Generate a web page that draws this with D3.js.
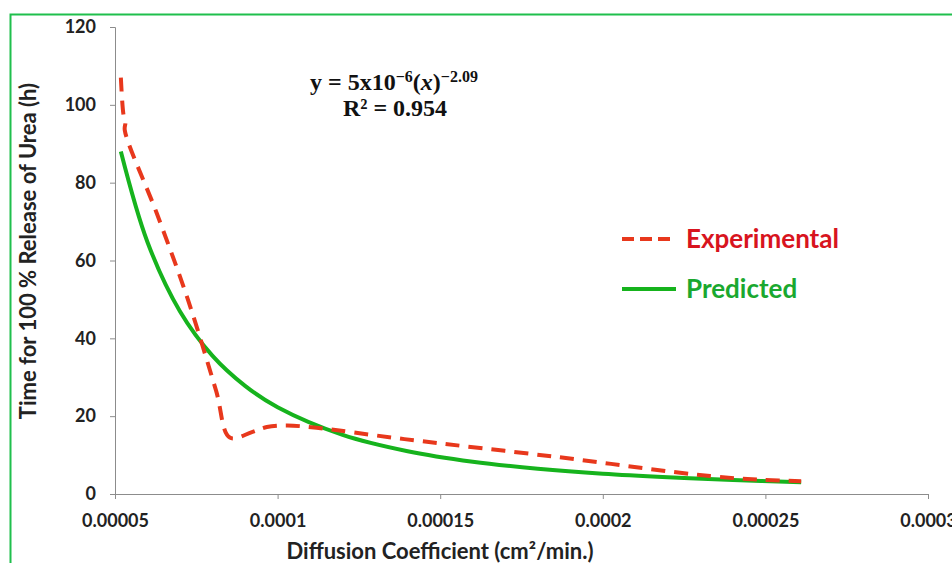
<html>

<head>
  <title>Urea release vs diffusion coefficient</title>
  <script src="https://d3js.org/d3.v7.min.js"></script>
  <style>
    body {
      margin: 0;
      background: white;
    }

    .axis text {
      font-family: Lato, "Open Sans", sans-serif;
      font-weight: 700;
      font-size: 18px;
      fill: #222;
    }

    .axis path,
    .axis line {
      stroke: #8c8c8c;
      stroke-width: 1;
    }

    .title {
      font-family: Lato, "Open Sans", sans-serif;
      font-weight: 700;
      font-size: 22px;
      fill: #222;
    }

    .equation {
      font-family: "Liberation Serif", "DejaVu Serif", serif;
      font-weight: 700;
      font-size: 24px;
      fill: #111;
    }

    .legend text {
      font-family: Lato, "Open Sans", sans-serif;
      font-weight: 700;
      font-size: 26px;
    }
  </style>
</head>

<body>
  <svg id="chart" width="952" height="563"></svg>

  <script>

    // ---- data
    // Experimental (smoothed dashed line)
    const expDiffusion = [0.0000518, 0.0000526, 0.0000532, 0.0000530, 0.0000629, 0.0000724, 0.0000811,
      0.0000853, 0.0000921, 0.0000967, 0.000103, 0.000112, 0.000139, 0.000186, 0.000233, 0.000250, 0.000261];
    const expTime = [107, 97.5, 95.5, 93.5, 72, 50, 26.5,
      14.5, 15.9, 17.2, 17.6, 17.0, 14.1, 9.5, 4.6, 3.6, 3.3];

    // Predicted (power-law fit, solid line)
    const predDiffusion = [0.0000518, 0.00006, 0.00007, 0.00008, 0.00009, 0.0001, 0.00012,
      0.00014, 0.00016, 0.00018, 0.0002, 0.00022, 0.00024, 0.000261];
    const predTime = [88, 64.7, 46.9, 35.5, 27.8, 22.3, 15.2,
      11.0, 8.3, 6.5, 5.2, 4.3, 3.6, 3.0];

    const xTicks = [0.00005, 0.0001, 0.00015, 0.0002, 0.00025, 0.0003];
    const xTickLabels = ["0.00005", "0.0001", "0.00015", "0.0002", "0.00025", "0.0003"];
    const yTicks = [0, 20, 40, 60, 80, 100, 120];

    const seriesNames = ["Experimental", "Predicted"];


    const svg = d3.select("svg#chart");
    const margin = { top: 27, right: 24, bottom: 69, left: 115 };
    const chartWidth = 928 - margin.left;
    const chartHeight = 494 - margin.top;

    // green frame round the figure (cropped at right and bottom)
    svg.append("path")
      .attr("d", "M10.5,600 V14.5 H960")
      .attr("fill", "none")
      .attr("stroke", "#1fbf4c")
      .attr("stroke-width", 2);

    let annotations = svg.append("g").attr("id", "annotations");
    let chartArea = svg.append("g").attr("id", "lines")
      .attr("transform", `translate(${margin.left},${margin.top})`);


    // 1. scales
    const xScale = d3.scaleLinear().domain([0.00005, 0.0003]).range([0, chartWidth]);
    const yScale = d3.scaleLinear().domain([0, 120]).range([chartHeight, 0]);


    // 2. axes
    let leftAxis = d3.axisLeft(yScale)
      .tickValues(yTicks)
      .tickSize(5)
      .tickPadding(14)
      .tickFormat(d3.format("d"));
    annotations.append("g")
      .attr("class", "y axis")
      .attr("transform", `translate(${margin.left}, ${margin.top})`)
      .call(leftAxis);

    let bottomAxis = d3.axisBottom(xScale)
      .tickValues(xTicks)
      .tickSize(5)
      .tickPadding(15)
      .tickFormat((d, i) => xTickLabels[i]);
    annotations.append("g")
      .attr("class", "x axis")
      .attr("transform", `translate(${margin.left}, ${margin.top + chartHeight})`)
      .call(bottomAxis);

    annotations.append("text")
      .attr("class", "title")
      .attr("transform", "translate(36, 251) rotate(-90)")
      .attr("text-anchor", "middle")
      .text("Time for 100 % Release of Urea (h)");

    annotations.append("text")
      .attr("class", "title")
      .attr("x", 440)
      .attr("y", 559)
      .attr("text-anchor", "middle")
      .text("Diffusion Coefficient (cm\u00b2/min.)");


    // 3. the two series
    const expData = expDiffusion.map((d, i) => ({ x: d, y: expTime[i] }));
    const predData = predDiffusion.map((d, i) => ({ x: d, y: predTime[i] }));

    const line = d3.line()
      .x(d => xScale(d.x))
      .y(d => yScale(d.y))
      .curve(d3.curveCatmullRom.alpha(0.5));

    chartArea.append("path")
      .datum(predData)
      .attr("d", line)
      .attr("fill", "none")
      .attr("stroke", "#16b31d")
      .attr("stroke-width", 4);

    chartArea.append("path")
      .datum(expData)
      .attr("d", line)
      .attr("fill", "none")
      .attr("stroke", "#e8381c")
      .attr("stroke-width", 4)
      .attr("stroke-dasharray", "14,9");


    // 4. equation
    let eq = annotations.append("text")
      .attr("class", "equation")
      .attr("x", 394)
      .attr("y", 90)
      .attr("text-anchor", "middle");
    eq.append("tspan").text("y = 5x10");
    eq.append("tspan").attr("dy", -8).style("font-size", "16px").text("\u22126");
    eq.append("tspan").attr("dy", 8).text("(");
    eq.append("tspan").style("font-style", "italic").text("x");
    eq.append("tspan").text(")");
    eq.append("tspan").attr("dy", -8).style("font-size", "16px").text("\u22122.09");

    annotations.append("text")
      .attr("class", "equation")
      .attr("x", 395)
      .attr("y", 116)
      .attr("text-anchor", "middle")
      .text("R\u00b2 = 0.954");


    // 5. legend
    const legendColors = { "Experimental": ["#e8381c", "#d8141e"], "Predicted": ["#16b31d", "#1aa82f"] };
    let legend = annotations.append("g").attr("class", "legend");
    seriesNames.forEach((name, i) => {
      let yPos = 239 + i * 50;
      legend.append("line")
        .attr("x1", 622).attr("x2", 676)
        .attr("y1", yPos).attr("y2", yPos)
        .attr("stroke", legendColors[name][0])
        .attr("stroke-width", 4)
        .attr("stroke-dasharray", i == 0 ? "12,6" : null);
      legend.append("text")
        .attr("x", 686)
        .attr("y", yPos + 9)
        .attr("fill", legendColors[name][1])
        .text(name);
    });

  </script>
</body>

</html>
